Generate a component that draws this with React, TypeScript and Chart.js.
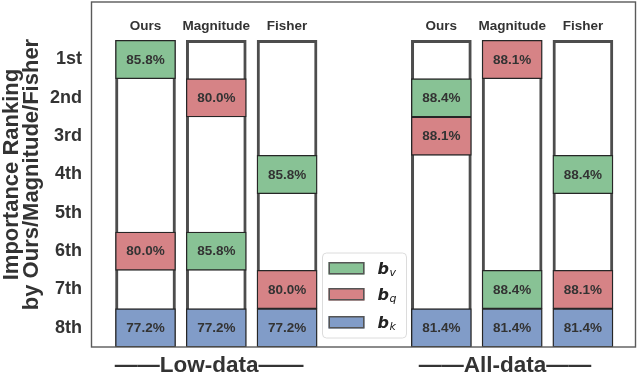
import React, { useEffect, useRef } from 'react';
import { Chart, registerables } from 'chart.js';

Chart.register(...registerables);

// ---- data ----
const methods = ['Ours', 'Magnitude', 'Fisher'];
const groupLabels = ['——Low-data——', '——All-data——'];
const rankLabels = ['1st', '2nd', '3rd', '4th', '5th', '6th', '7th', '8th'];
// columns: Low-data Ours, Magnitude, Fisher, then All-data Ours, Magnitude, Fisher
const bvRank = [1, 6, 4, 2, 7, 4];
const bqRank = [6, 2, 7, 3, 1, 7];
const bkRank = [8, 8, 8, 8, 8, 8];
const bvAcc = [85.8, 85.8, 85.8, 88.4, 88.4, 88.4];
const bqAcc = [80.0, 80.0, 80.0, 88.1, 88.1, 88.1];
const bkAcc = [77.2, 77.2, 77.2, 81.4, 81.4, 81.4];
const legendSubs = ['v', 'q', 'k'];

// ---- layout / style ----
const X_START = 0.77;
const GROUP_STRIDE = 4.18;
const X_MAX = 7.7;
const colX = (i: number) => X_START + (i % methods.length) + Math.floor(i / methods.length) * GROUP_STRIDE;
const nCols = methods.length * groupLabels.length;

const GREEN = '#88c295';
const RED = '#d68386';
const BLUE = '#819cc8';
const TEXT = '#333333';
const SANS = '"Liberation Sans", Arial, Helvetica, sans-serif';

const cellData = (ranks: number[]) => ranks.map((r, i) => ({ x: colX(i), y: [r, r + 1] }));

const overlayPlugin = {
  id: 'overlay',
  afterDatasetsDraw(chart: any) {
    const ctx = chart.ctx as CanvasRenderingContext2D;
    const { left, right, top, bottom } = chart.chartArea;
    const xs = chart.scales.x;
    ctx.save();
    // value labels
    const accs = [bvAcc, bqAcc, bkAcc];
    ctx.fillStyle = TEXT;
    ctx.font = `bold 13.5px ${SANS}`;
    ctx.textAlign = 'center';
    ctx.textBaseline = 'middle';
    accs.forEach((acc, d) => {
      const meta = chart.getDatasetMeta(d);
      meta.data.forEach((el: any, i: number) => {
        const p = el.getProps(['x', 'y', 'base'], true);
        ctx.fillText(acc[i].toFixed(1) + '%', p.x, (p.y + p.base) / 2 + 0.5);
      });
    });
    // column titles
    ctx.font = `bold 13.5px ${SANS}`;
    for (let i = 0; i < nCols; i++) {
      ctx.fillText(methods[i % methods.length], xs.getPixelForValue(colX(i)), top + 24.5);
    }
    // plot frame
    ctx.strokeStyle = '#5a5a5a';
    ctx.lineWidth = 1.4;
    ctx.strokeRect(left + 0.5, top, right - left - 1, bottom - top);

    // legend
    const lw = 84;
    const lh = 85;
    const lx = (left + right) / 2 - lw / 2 + 1;
    const ly = bottom - 9 - lh;
    ctx.beginPath();
    (ctx as any).roundRect(lx, ly, lw, lh, 4);
    ctx.fillStyle = 'rgba(255,255,255,0.85)';
    ctx.fill();
    ctx.strokeStyle = '#dcdcdc';
    ctx.lineWidth = 1;
    ctx.stroke();
    const colors = [GREEN, RED, BLUE];
    const rowY = [15, 41, 69];
    colors.forEach((c, k) => {
      const cy = ly + rowY[k];
      ctx.fillStyle = c;
      ctx.fillRect(lx + 6, cy - 6, 36, 12.5);
      ctx.strokeStyle = '#555';
      ctx.lineWidth = 1.5;
      ctx.strokeRect(lx + 6.75, cy - 5.25, 34.5, 11);
      ctx.fillStyle = '#222';
      ctx.textAlign = 'left';
      ctx.textBaseline = 'alphabetic';
      ctx.font = `italic bold 16px "DejaVu Sans", sans-serif`;
      const bx = lx + 55;
      ctx.fillText('b', bx, cy + 5.5);
      const bw = ctx.measureText('b').width;
      ctx.font = `italic 11px "DejaVu Sans", sans-serif`;
      ctx.fillText(legendSubs[k], bx + bw + 0.5, cy + 8);
    });
    ctx.restore();
  },
};

export default function App() {
  const ref = useRef<HTMLCanvasElement | null>(null);
  useEffect(() => {
    document.body.style.margin = '0';
    document.body.style.overflow = 'hidden';
    const canvas = ref.current;
    if (!canvas) return;
    const cellStyle = { borderColor: '#262626', borderWidth: 1.3, borderSkipped: false as const, order: 0 };
    const chart = new Chart(canvas, {
      type: 'bar',
      data: {
        datasets: [
          { label: 'b_v', data: cellData(bvRank) as any, backgroundColor: GREEN, ...cellStyle },
          { label: 'b_q', data: cellData(bqRank) as any, backgroundColor: RED, ...cellStyle },
          { label: 'b_k', data: cellData(bkRank) as any, backgroundColor: BLUE, ...cellStyle },
          {
            label: 'frame',
            data: Array.from({ length: nCols }, (_, i) => ({ x: colX(i), y: [1, rankLabels.length + 1] })) as any,
            backgroundColor: '#ffffff',
            borderColor: '#4d4d4d',
            borderWidth: 3,
            borderSkipped: false,
            order: 5,
          },
        ],
      },
      options: {
        animation: false,
        responsive: false,
        devicePixelRatio: 1,
        layout: { padding: { top: 2, right: 4, left: 0, bottom: 0 } },
        plugins: { legend: { display: false }, tooltip: { enabled: false } },
        datasets: { bar: { grouped: false, barThickness: 60 } as any },
        scales: {
          x: {
            type: 'linear',
            min: 0,
            max: X_MAX,
            offset: false,
            grid: { display: false, drawTicks: false },
            border: { display: false },
            afterBuildTicks: (s: any) => {
              s.ticks = groupLabels.map((_, g) => ({ value: X_START + 1 + g * GROUP_STRIDE - 0.1 }));
            },
            afterFit: (s: any) => {
              s.height = 31;
              s.paddingLeft = 0;
              s.paddingRight = 0;
            },
            ticks: {
              autoSkip: false,
              maxRotation: 0,
              padding: 5,
              color: TEXT,
              font: { family: SANS, size: 22.5, weight: 'bold' },
              callback: (_v: any, i: number) => groupLabels[i],
            },
          },
          y: {
            type: 'linear',
            reverse: true,
            min: 0,
            max: rankLabels.length + 1,
            grid: { display: false, drawTicks: false },
            border: { display: false },
            afterBuildTicks: (s: any) => {
              s.ticks = rankLabels.map((_, i) => ({ value: i + 1.5 }));
            },
            afterFit: (s: any) => {
              s.width = 91;
              s.paddingTop = 0;
              s.paddingBottom = 0;
            },
            ticks: {
              padding: 9,
              color: TEXT,
              font: { family: SANS, size: 18, weight: 'bold' },
              callback: (_v: any, i: number) => rankLabels[i],
            },
            title: {
              display: true,
              text: ['Importance Ranking', 'by Ours/Magnitude/Fisher'],
              color: TEXT,
              font: { family: SANS, size: 22, weight: 'bold', lineHeight: 0.91 },
              padding: { top: 2, bottom: 0 },
            },
          },
        },
      } as any,
      plugins: [overlayPlugin],
    });
    return () => chart.destroy();
  }, []);
  return (
    <div style={{ width: 640, height: 378 }}>
      <canvas ref={ref} width={640} height={378} style={{ display: 'block', width: 640, height: 378 }} />
    </div>
  );
}
